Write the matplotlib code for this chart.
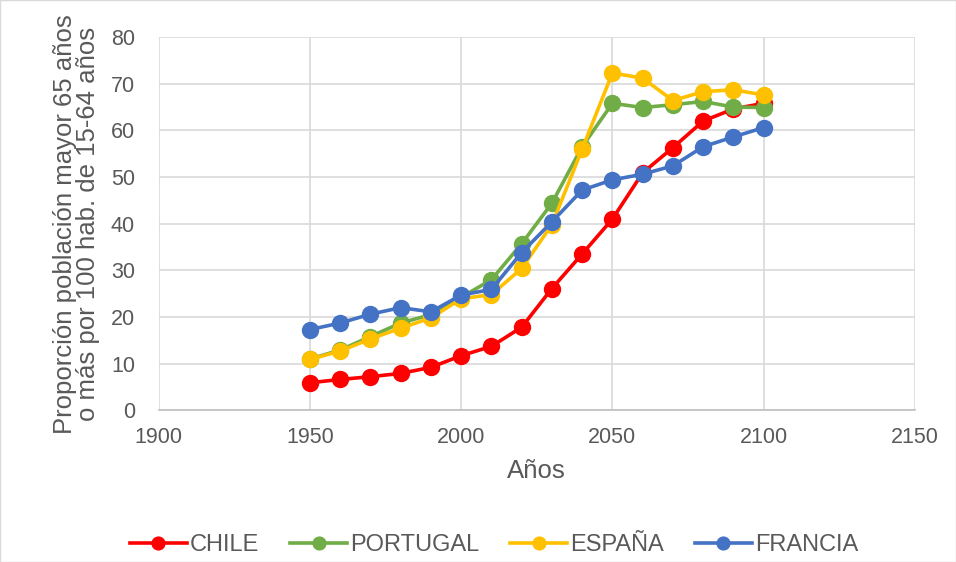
import numpy as np
import matplotlib.pyplot as plt

plt.rcParams['font.family'] = ['Liberation Sans', 'DejaVu Sans']

years = [1950, 1960, 1970, 1980, 1990, 2000, 2010, 2020, 2030, 2040,
         2050, 2060, 2070, 2080, 2090, 2100]

chile = [5.9, 6.6, 7.2, 7.9, 9.2, 11.7, 13.7, 17.8, 26.1, 33.5,
         41.0, 50.9, 56.3, 62.0, 64.6, 65.8]
portugal = [11.0, 12.9, 15.8, 18.7, 20.5, 24.2, 28.0, 35.7, 44.4, 56.5,
            65.8, 64.9, 65.5, 66.2, 65.0, 64.9]
espana = [10.9, 12.7, 15.3, 17.6, 19.8, 23.9, 24.8, 30.4, 39.8, 56.0,
          72.3, 71.2, 66.4, 68.3, 68.7, 67.6]
francia = [17.3, 18.7, 20.6, 22.0, 21.1, 24.7, 25.9, 33.8, 40.4, 47.2,
           49.4, 50.6, 52.4, 56.5, 58.6, 60.6]

series = [('CHILE', chile, '#ff0000'),
          ('PORTUGAL', portugal, '#70ad47'),
          ('ESPAÑA', espana, '#ffc000'),
          ('FRANCIA', francia, '#4472c4')]

txt = '#595959'

fig = plt.figure(figsize=(9.56, 5.62), dpi=100)
ax = fig.add_axes([0.166, 0.270, 0.791, 0.664])

for name, vals, color in series:
    ax.plot(years, vals, color=color, linewidth=2.6, marker='o',
            markersize=11.5, label=name)

ax.set_xlim(1900, 2150)
ax.set_ylim(0, 80)
ax.set_xticks(np.arange(1900, 2151, 50))
ax.set_yticks(np.arange(0, 81, 10))
ax.grid(True, color='#d9d9d9', linewidth=1.2)
ax.set_axisbelow(True)
for s in ['top', 'right', 'left']:
    ax.spines[s].set_visible(False)
ax.spines['bottom'].set_color('#bfbfbf')
ax.spines['bottom'].set_linewidth(1.2)
ax.tick_params(length=0, labelsize=15.5, colors=txt)
ax.tick_params(axis='y', pad=17)
ax.tick_params(axis='x', pad=12)

ax.set_xlabel('Años', fontsize=18.5, color=txt, labelpad=8)
ax.set_ylabel('Proporción población mayor 65 años\no más por 100 hab. de 15-64 años',
              fontsize=18.5, color=txt, labelpad=8, linespacing=0.95)

fig.legend(loc='center', bbox_to_anchor=(0.517, 0.03), ncol=4, frameon=False,
           fontsize=17, labelcolor=txt, handlelength=2.4, columnspacing=1.3,
           handletextpad=0.15, markerscale=0.8)

fig.patches.append(plt.Rectangle((0, 0), 1, 1, transform=fig.transFigure,
                                 fill=False, edgecolor='#d9d9d9', linewidth=1))

fig.savefig('out.png', dpi=100)
